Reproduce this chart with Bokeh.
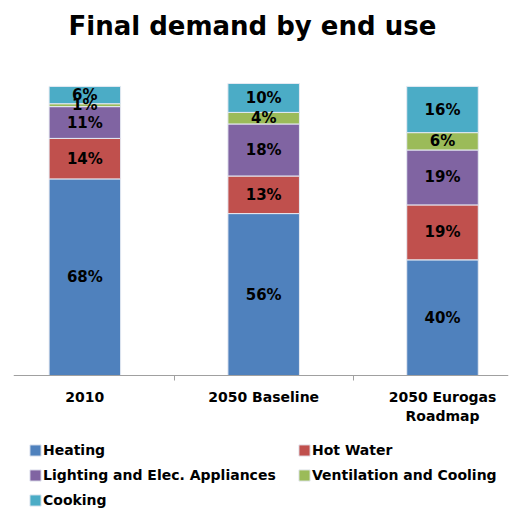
from bokeh.plotting import figure
from bokeh.models import ColumnDataSource, FixedTicker, Legend, LegendItem, Range1d
from bokeh.core.properties import value
from bokeh.embed import file_html
from bokeh.resources import INLINE

# Share of final demand by end use (%)
scenarios = ["2010", "2050 Baseline", "2050 Eurogas\nRoadmap"]
end_uses = ["Heating", "Hot Water", "Lighting and Elec. Appliances",
            "Ventilation and Cooling", "Cooking"]
heating = [68, 56, 40]
hot_water = [14, 13, 19]
lighting = [11, 18, 19]
ventilation = [1, 4, 6]
cooking = [6, 10, 16]
colors = ["#4F81BD", "#C0504D", "#8064A2", "#9BBB59", "#4BACC6"]

FONT = "DejaVu Sans"
keys = ["heating", "hot_water", "lighting", "ventilation", "cooking"]
series = [heating, hot_water, lighting, ventilation, cooking]
xs = list(range(len(scenarios)))

data = {"x": xs}
for k, s in zip(keys, series):
    data[k] = s
source = ColumnDataSource(data)

# The plotting area runs from under the title to the bottom edge; the
# category axis is pinned at 0 and the legend sits below it.
p = figure(width=520, height=508, output_backend="svg", toolbar_location=None,
           x_range=Range1d(-0.399, 2.369), y_range=Range1d(-46.0, 113.1),
           y_axis_location=None, min_border_left=13, min_border_right=12,
           min_border_top=0, min_border_bottom=0, outline_line_color=None)
p.grid.visible = False

p.title.text = "Final demand by end use"
p.title.align = "left"
p.title.offset = 55
p.title.text_font = FONT
p.title.text_font_size = "26px"
p.title.text_font_style = "bold"
p.title.text_color = "black"
p.title.standoff = 16

renderers = p.vbar_stack(keys, x="x", width=0.40, source=source, color=colors,
                         line_color="#E6EAF2", line_width=1)

# segment labels, centred in each block
lx, ly, lt = [], [], []
for i in xs:
    base = 0
    for s in series:
        v = s[i]
        lx.append(i)
        ly.append(base + v / 2)
        lt.append(f"{v}%")
        base += v
p.text(x=lx, y=ly, text=lt, text_align="center", text_baseline="middle",
       text_font=value(FONT), text_font_size="15px", text_font_style="bold",
       text_color="black")

ax = p.xaxis[0]
ax.fixed_location = 0
ax.ticker = FixedTicker(ticks=xs, minor_ticks=[0.5, 1.5])
ax.major_label_overrides = {i: s for i, s in zip(xs, scenarios)}
ax.major_tick_line_color = None
ax.major_tick_out = 0
ax.major_tick_in = 0
ax.minor_tick_line_color = "#A0A0A0"
ax.minor_tick_out = 5
ax.minor_tick_in = 0
ax.axis_line_color = "#A0A0A0"
ax.major_label_standoff = 8
ax.major_label_text_font = FONT
ax.major_label_text_font_size = "14px"
ax.major_label_text_font_style = "bold"
ax.major_label_text_color = "black"

# legend: three rows, two columns (filled column by column)
order = [0, 2, 4, 1, 3]
legend = Legend(items=[LegendItem(label=end_uses[i], renderers=[renderers[i]]) for i in order],
                orientation="vertical", nrows=3, location=(15, 0),
                border_line_color=None, background_fill_alpha=0,
                label_text_font=FONT, label_text_font_size="14px",
                label_text_font_style="bold", label_text_color="black",
                glyph_width=14, glyph_height=14, label_standoff=1,
                label_height=14, label_width=245, spacing=9, padding=0, margin=0)
p.add_layout(legend, "center")

open("out.html", "w").write(file_html(p, INLINE))
